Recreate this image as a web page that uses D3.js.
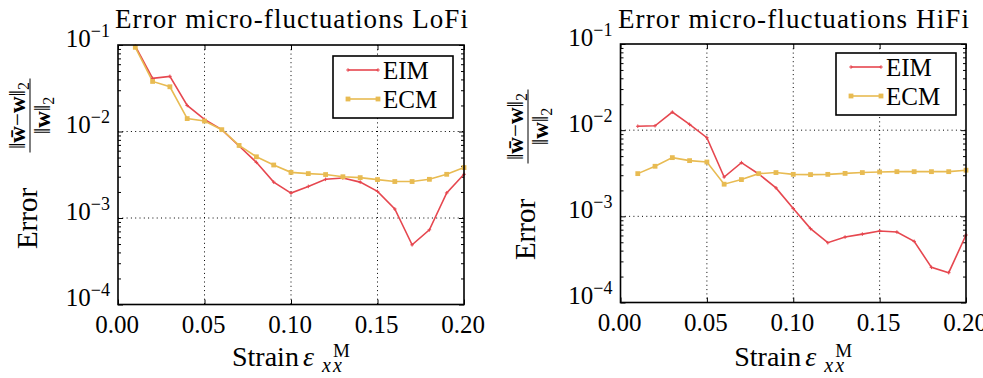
<html>
<head>
	<title>error micro-fluctuations</title>
	<style>
		body { margin:0; padding:0; background:#fff; }
		svg { display:block; }
		svg text { font-family:"Liberation Serif", "DejaVu Serif", serif !important; fill:#000; }
		.tick line { stroke:#000; stroke-width:1; }
		.domain { display:none; }
	</style>
</head>
<body>
	<svg width="983" height="378"></svg>
	<script src="https://d3js.org/d3.v7.min.js"></script>
	<script>

		// strain values (x) shared by both panels
		var strain = [0.01,0.02,0.03,0.04,0.05,0.06,0.07,0.08,0.09,0.10,0.11,0.12,0.13,0.14,0.15,0.16,0.17,0.18,0.19,0.20];

		// LoFi
		var lofiEIM = [0.097,0.0411,0.0434,0.020,0.0138,0.0105,0.0068,0.0044,0.0026,0.00194,0.00232,0.0028,0.0029,0.0026,0.00203,0.00127,0.00049,0.00073,0.00195,0.0032];
		var lofiECM = [0.094,0.0379,0.0329,0.0141,0.0132,0.0105,0.0069,0.0051,0.0041,0.00337,0.00326,0.00318,0.0030,0.00293,0.00278,0.00264,0.00264,0.0028,0.0032,0.00383];

		// HiFi
		var hifiEIM = [0.0111,0.01125,0.0162,0.01166,0.00817,0.00286,0.0042,0.0031,0.00214,0.00123,0.00072,0.000494,0.000575,0.000622,0.000675,0.000657,0.000512,0.000256,0.000222,0.000607];
		var hifiECM = [0.00313,0.00381,0.0048,0.00443,0.00427,0.00236,0.00267,0.00313,0.00322,0.00307,0.00305,0.00307,0.00315,0.00322,0.00327,0.0033,0.0033,0.0033,0.0033,0.00343];

		var xTicks = [0, 0.05, 0.10, 0.15, 0.20];
		var xTickLabels = ["0.00", "0.05", "0.10", "0.15", "0.20"];
		var yTicks = [1e-1, 1e-2, 1e-3, 1e-4];
		var yTickExp = ["\u22121", "\u22122", "\u22123", "\u22124"];
		var seriesNames = ["EIM", "ECM"];

		var red = "#e6474f";
		var yellow = "#e8bb52";

		var svg = d3.select("svg");

		var panels = [
			{title:"Error micro-fluctuations LoFi", left:118, right:464, top:45, bottom:304.5,
			 titleX:115, titleW:353, eim:lofiEIM, ecm:lofiECM, legX:333, legY:56,
			 ylabX:37, ylabY:164},
			{title:"Error micro-fluctuations HiFi", left:620.5, right:966, top:44, bottom:302.5,
			 titleX:618, titleW:351, eim:hifiEIM, ecm:hifiECM, legX:836, legY:53,
			 ylabX:535, ylabY:175}
		];

		panels.forEach(drawPanel);

		function drawPanel(p) {
			var g = svg.append("g");
			var x = d3.scaleLinear().domain([0, 0.2]).range([p.left, p.right]);
			var y = d3.scaleLog().domain([1e-4, 1e-1]).range([p.bottom, p.top]);

			// dotted grid
			g.selectAll(".gx").data(xTicks.slice(1, 4)).enter().append("line")
			.attr("x1", function(d){ return x(d) }).attr("x2", function(d){ return x(d) })
			.attr("y1", p.top).attr("y2", p.bottom)
			.attr("stroke", "#000").attr("stroke-width", 1).attr("stroke-dasharray", "1,3.3")
			g.selectAll(".gy").data(yTicks.slice(1, 3)).enter().append("line")
			.attr("y1", function(d){ return y(d) }).attr("y2", function(d){ return y(d) })
			.attr("x1", p.left).attr("x2", p.right)
			.attr("stroke", "#000").attr("stroke-width", 1).attr("stroke-dasharray", "1,3.3")

			// minor log ticks (inside, both sides)
			var minor = y.ticks().filter(function(d){ return yTicks.indexOf(d) < 0 });
			g.append("g").attr("transform", "translate(" + p.left + ",0)")
			.call(d3.axisRight(y).tickValues(minor).tickSize(3).tickFormat(""))
			g.append("g").attr("transform", "translate(" + p.right + ",0)")
			.call(d3.axisLeft(y).tickValues(minor).tickSize(3).tickFormat(""))
			g.append("g").attr("transform", "translate(" + p.right + ",0)")
			.call(d3.axisLeft(y).tickValues(yTicks).tickSize(5).tickFormat(""))
			g.append("g").attr("transform", "translate(0," + p.top + ")")
			.call(d3.axisBottom(x).tickValues(xTicks).tickSize(5).tickFormat(""))

			// x axis with labels
			var gx = g.append("g").attr("transform", "translate(0," + p.bottom + ")")
			.call(d3.axisBottom(x).tickValues(xTicks).tickSizeInner(-5).tickSizeOuter(0)
				.tickFormat(function(d, i){ return xTickLabels[i] }))
			gx.selectAll(".tick text")
			.attr("y", 28.5).attr("dy", 0).attr("x", -1.5)
			.attr("font-size", 25)

			// y axis with 10^-n labels
			var gy = g.append("g").attr("transform", "translate(" + p.left + ",0)")
			.call(d3.axisLeft(y).tickValues(yTicks).tickSizeInner(-5).tickSizeOuter(0).tickPadding(8))
			gy.selectAll(".tick text").each(function(d, i) {
				var t = d3.select(this);
				t.text(null).attr("dy", 1).attr("x", -8).attr("font-size", 25);
				t.append("tspan").text("10");
				t.append("tspan").attr("dy", -10).attr("font-size", 18).text(yTickExp[i]);
			})

			// lines
			var line = d3.line()
			.x(function(d, i){ return x(strain[i]) })
			.y(function(d){ return y(d) })

			g.append("path").datum(p.eim).attr("d", line)
			.attr("fill", "none").attr("stroke", red).attr("stroke-width", 1.6)
			g.append("path").datum(p.ecm).attr("d", line)
			.attr("fill", "none").attr("stroke", yellow).attr("stroke-width", 1.6)

			// markers
			g.selectAll(".mk-eim").data(p.eim).enter().append("path")
			.attr("d", function(d, i){
				var cx = x(strain[i]), cy = y(d);
				return "M" + (cx-1.8) + "," + cy + "H" + (cx+1.8) + "M" + cx + "," + (cy-1.8) + "V" + (cy+1.8);
			})
			.attr("stroke", red).attr("stroke-width", 1)
			g.selectAll(".mk-ecm").data(p.ecm).enter().append("rect")
			.attr("x", function(d, i){ return x(strain[i]) - 2.4 })
			.attr("y", function(d){ return y(d) - 2.4 })
			.attr("width", 4.8).attr("height", 4.8)
			.attr("fill", yellow)

			// frame
			g.append("rect").attr("x", p.left).attr("y", p.top)
			.attr("width", p.right - p.left).attr("height", p.bottom - p.top)
			.attr("fill", "none").attr("stroke", "#000").attr("stroke-width", 1.6)

			// title
			g.append("text").attr("x", p.titleX).attr("y", 28)
			.attr("font-size", 27).attr("textLength", p.titleW).attr("lengthAdjust", "spacing")
			.text(p.title)

			// legend
			var leg = g.append("g").attr("transform", "translate(" + p.legX + "," + p.legY + ")")
			leg.append("rect").attr("width", 120).attr("height", 62)
			.attr("fill", "#fff").attr("stroke", "#000").attr("stroke-width", 1.6)
			seriesNames.forEach(function(name, k) {
				var ly = k == 0 ? 14 : 43;
				var col = k == 0 ? red : yellow;
				leg.append("line").attr("x1", 15).attr("x2", 45).attr("y1", ly).attr("y2", ly)
				.attr("stroke", col).attr("stroke-width", 1.6)
				if (k == 0) {
					leg.append("path").attr("d", "M13.2," + ly + "H16.8M15," + (ly-1.8) + "V" + (ly+1.8)
						+ "M43.2," + ly + "H46.8M45," + (ly-1.8) + "V" + (ly+1.8))
					.attr("stroke", col).attr("stroke-width", 1)
				} else {
					leg.append("rect").attr("x", 15 - 2.4).attr("y", ly - 2.4).attr("width", 4.8).attr("height", 4.8).attr("fill", col)
					leg.append("rect").attr("x", 45 - 2.4).attr("y", ly - 2.4).attr("width", 4.8).attr("height", 4.8).attr("fill", col)
				}
				leg.append("text").attr("x", 50).attr("y", ly + 9)
				.attr("font-size", 25).text(name)
			})

			// x label: Strain eps^M_xx
			var c = (p.left + p.right) / 2;
			var xl = g.append("text").attr("y", 366).attr("font-size", 28)
			xl.append("tspan").attr("x", c - 59).text("Strain")
			xl.append("tspan").attr("x", c + 12).attr("font-style", "italic").text("\u03b5")
			xl.append("tspan").attr("x", c + 31).attr("y", 372).attr("font-size", 20)
			.attr("font-style", "italic").attr("letter-spacing", 2).text("xx")
			xl.append("tspan").attr("x", c + 42).attr("y", 357).attr("font-size", 19).text("M")

			// y label (rotated)
			var yl = g.append("g").attr("transform", "translate(" + p.ylabX + "," + p.ylabY + ") rotate(-90)")
			yl.append("text").attr("x", -54.5).attr("y", 0).attr("text-anchor", "middle")
			.attr("font-size", 29).text("Error")
			yl.append("line").attr("x1", 48.5 - 37).attr("x2", 48.5 + 37).attr("y1", -7).attr("y2", -7)
			.attr("stroke", "#000").attr("stroke-width", 1)
			var num = yl.append("text").attr("x", 48.5).attr("y", -12).attr("text-anchor", "middle").attr("font-size", 23)
			num.append("tspan").text("\u2016")
			num.append("tspan").attr("font-weight", "bold").text("w\u0304")
			num.append("tspan").text("\u2212")
			num.append("tspan").attr("font-weight", "bold").text("w")
			num.append("tspan").text("\u2016")
			num.append("tspan").attr("dy", 4).attr("font-size", 16).text("2")
			var den = yl.append("text").attr("x", 48.5).attr("y", 13).attr("text-anchor", "middle").attr("font-size", 23)
			den.append("tspan").text("\u2016")
			den.append("tspan").attr("font-weight", "bold").text("w")
			den.append("tspan").text("\u2016")
			den.append("tspan").attr("dy", 4).attr("font-size", 16).text("2")
		}
	</script>
</body>
</html>
